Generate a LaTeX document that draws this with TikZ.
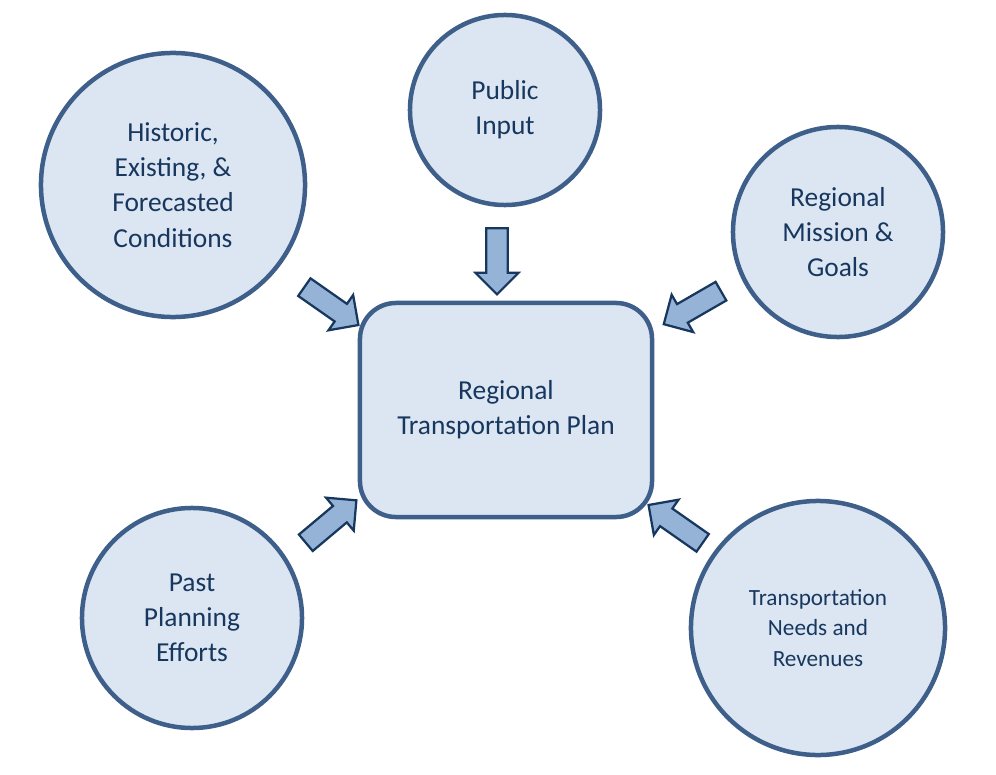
\documentclass[tikz,border=0pt]{standalone}
\usepackage{fontspec}
\setmainfont{Carlito}
\usetikzlibrary{shapes.arrows}

\definecolor{rimblue}{HTML}{3E5F8A}
\definecolor{paleblue}{HTML}{DCE6F2}
\definecolor{midblue}{HTML}{95B3D7}
\definecolor{inkblue}{HTML}{17375E}

\tikzset{
    topic/.style={circle, draw=rimblue, line width=3.2pt, fill=paleblue,
        text=inkblue, align=center, font=\fontsize{19.5}{25}\selectfont},
    plan/.style={rectangle, rounded corners=0.9cm, draw=rimblue, line width=3.2pt,
        fill=paleblue, text=inkblue, align=center, font=\fontsize{19.5}{25}\selectfont,
        minimum width=7.3cm, minimum height=5.35cm},
    feed/.style={single arrow, draw=inkblue, line width=1.6pt, fill=midblue,
        inner sep=0pt, inner ysep=0.24cm, single arrow head extend=0.27cm,
        minimum height=1.65cm}
}

\begin{document}
\begin{tikzpicture}[x=0.025cm,y=-0.025cm]
    \useasboundingbox (0,0) rectangle (996,775);

    \node[plan] (rtp) at (506,410) {Regional\\Transportation Plan};

    \node[topic, minimum size=6.6cm] (hist) at (173,185)
        {Historic,\\Existing, \&\\Forecasted\\Conditions};
    \node[topic, minimum size=4.75cm] (pub) at (505,110) {Public\\Input};
    \node[topic, minimum size=5.25cm] (miss) at (838,232)
        {Regional\\Mission \&\\Goals};
    \node[topic, minimum size=5.5cm] (past) at (192,618)
        {Past\\Planning\\Efforts};
    \node[topic, minimum size=6.35cm, font=\fontsize{16.5}{21.5}\selectfont] (needs) at (818,628)
        {Transportation\\Needs and\\Revenues};

    % feeding arrows
    \node[feed, rotate=-90] (a1) at (497,256) {};
    \node[feed, rotate=-35] (a2) at (327,303) {};
    \node[feed, rotate=-150] (a3) at (697,305) {};
    \node[feed, rotate=40] (a4) at (327,525) {};
    \node[feed, rotate=145] (a5) at (680,527) {};
\end{tikzpicture}
\end{document}
